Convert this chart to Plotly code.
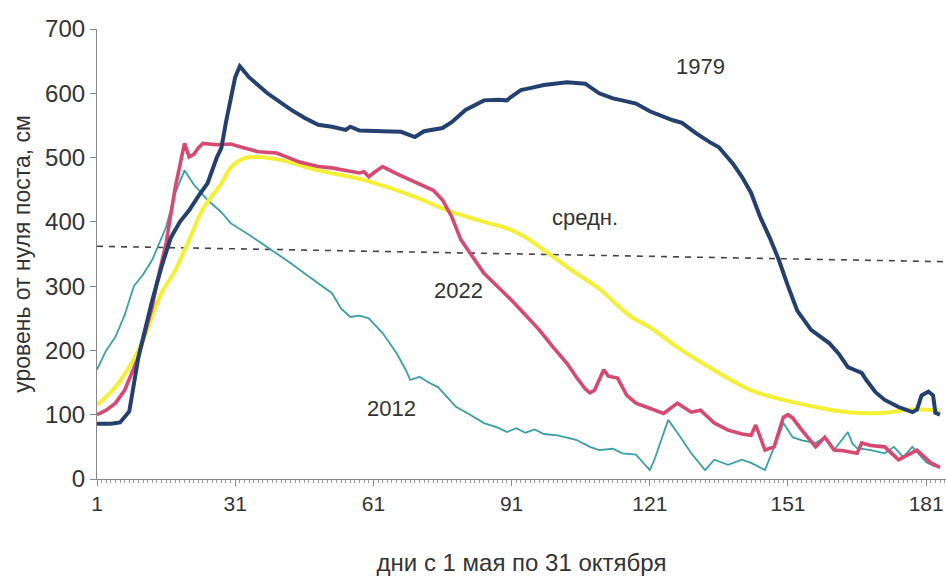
import plotly.graph_objects as go

# ---- data ----
days_1979 = [1, 4, 6, 8, 10, 12, 13, 15, 17, 19, 21, 23, 25, 27, 28, 29, 30, 31, 32, 34, 38, 43, 46, 49,
             52, 55, 56, 58, 63, 67, 70, 72, 76, 78, 81, 85, 88, 90, 91, 93, 95, 98, 103, 107, 110,
             113, 115, 118, 121, 123, 126, 128, 131, 134, 136, 139, 141, 143, 145, 147, 149, 151,
             153, 156, 158, 160, 162, 164, 166, 167, 168, 170, 172, 175, 178, 179, 180, 181.5, 182.5, 183, 184]
vals_1979 = [86, 86, 88, 105, 190, 250, 278, 330, 375, 400, 418, 440, 460, 500, 515, 555, 590, 625, 642, 625,
             600, 575, 562, 551, 548, 543, 548, 542, 541, 540, 532, 541, 546, 555, 574, 589, 590, 589,
             595, 605, 608, 613, 617, 615, 600, 592, 589, 584, 572, 566, 558, 554, 538, 524, 516, 491,
             470, 445, 407, 376, 341, 300, 262, 232, 222, 211, 195, 174, 168, 165, 154, 135, 123, 112,
             104, 108, 130, 136, 130, 103, 100]

days_2022 = [1, 3, 5, 7, 10, 13, 14, 16, 18, 19, 20, 21, 22, 23, 24, 27, 30, 33, 36, 40, 45, 49, 52, 55, 58,
             59, 60, 61, 63, 66, 69, 72, 74, 76, 78, 80, 82, 85, 88, 91, 94, 97, 100, 103, 105, 107, 108,
             109, 111, 112, 114, 116, 118, 121, 124, 127, 130, 132, 135, 138, 141, 143, 144, 146, 148,
             150, 151, 152, 154, 157, 159, 161, 163, 166, 167, 169, 172, 175, 179, 182, 184]
vals_2022 = [100, 107, 118, 138, 190, 268, 305, 367, 454, 490, 522, 501, 505, 515, 522, 520, 521, 515, 509,
             507, 493, 486, 484, 480, 476, 478, 470, 476, 486, 475, 465, 455, 449, 434, 408, 372, 351, 320,
             299, 278, 255, 232, 205, 180, 159, 140, 134, 138, 170, 160, 157, 130, 118, 110, 102, 118, 104,
             107, 87, 76, 70, 68, 84, 45, 50, 96, 100, 95, 76, 50, 65, 45, 44, 40, 56, 52, 50, 30, 45, 25, 18]

days_2012 = [1, 3, 5, 7, 9, 11, 13, 16, 18, 20, 22, 25, 28, 30, 34, 38, 43, 46, 49, 52, 54, 56, 58, 60, 63,
             66, 68, 69, 71, 73, 75, 77, 79, 82, 85, 88, 90, 92, 94, 96, 98, 101, 103, 105, 108, 110, 113,
             115, 118, 121, 122, 125, 127, 130, 133, 135, 138, 141, 143, 146, 148, 150, 152, 154, 157, 159,
             161, 164, 165, 166, 169, 172, 174, 176, 178, 181, 183]
vals_2012 = [170, 200, 221, 255, 300, 318, 341, 392, 445, 480, 458, 434, 415, 398, 380, 361, 336, 320, 305,
             289, 265, 252, 254, 250, 227, 196, 170, 154, 159, 150, 143, 128, 112, 100, 87, 80, 73, 79, 72,
             77, 70, 68, 65, 61, 50, 45, 47, 40, 38, 14, 30, 92, 72, 40, 14, 30, 22, 30, 25, 14, 50, 87, 65,
             60, 56, 65, 45, 73, 55, 48, 45, 40, 50, 34, 50, 26, 19]

days_avg = [1, 5, 10, 15, 18, 21, 24, 28, 30, 33, 36, 41, 49, 59, 70, 77, 86, 90, 94, 99, 104, 110, 114,
            117, 121, 128, 136, 143, 150, 157, 164, 172, 177, 184]
vals_avg = [115, 143, 200, 289, 325, 372, 420, 460, 484, 499, 501, 496, 480, 465, 439, 418, 398, 390, 376,
            351, 325, 296, 270, 252, 236, 200, 165, 138, 123, 112, 104, 103, 108, 107]

days_dash = [1, 185.3]
vals_dash = [362, 338]

x_ticks = [1, 31, 61, 91, 121, 151, 181]
y_ticks = [0, 100, 200, 300, 400, 500, 600, 700]

labels = ["1979", "2022", "2012", "средн."]
label_days = [132, 79.5, 65, 107]
label_vals = [641, 294, 110, 407]

FONT = "Liberation Sans, Arial, sans-serif"

fig = go.Figure()
fig.add_trace(go.Scatter(x=days_dash, y=vals_dash, mode="lines",
                         line=dict(color="#444444", width=1.6, dash="6px,6px"), hoverinfo="skip"))
fig.add_trace(go.Scatter(x=days_2012, y=vals_2012, mode="lines",
                         line=dict(color="#3a9fa7", width=1.8), name="2012"))
fig.add_trace(go.Scatter(x=days_avg, y=vals_avg, mode="lines", line_shape="spline",
                         line=dict(color="#f3f036", width=4), name="средн."))
fig.add_trace(go.Scatter(x=days_2022, y=vals_2022, mode="lines",
                         line=dict(color="#d64a72", width=3.6), name="2022"))
fig.add_trace(go.Scatter(x=days_1979, y=vals_1979, mode="lines",
                         line=dict(color="#24406e", width=4), name="1979"))

for t, dx, vy in zip(labels, label_days, label_vals):
    fig.add_annotation(x=dx, y=vy, text=t, showarrow=False,
                       font=dict(family=FONT, size=22, color="#333333"))

fig.update_layout(
    width=946, height=578,
    margin=dict(l=97, r=0, t=29, b=99),
    paper_bgcolor="white", plot_bgcolor="white",
    showlegend=False,
    font=dict(family=FONT, color="#333333"),
)
fig.update_xaxes(
    range=[1, 185.3], tickvals=x_ticks, ticktext=[str(v) for v in x_ticks],
    automargin=False, ticklabeloverflow="allow",
    showline=True, linecolor="#888888", linewidth=1.2,
    ticks="outside", ticklen=6, tickcolor="#888888",
    minor=dict(dtick=1, tick0=1, ticks="outside", ticklen=3, tickcolor="#999999"),
    showgrid=False, zeroline=False,
    tickfont=dict(size=21, color="#333333"),
    title=dict(text="дни с 1 мая по 31 октября", font=dict(size=24, color="#333333"), standoff=39),
)
fig.update_yaxes(
    range=[0, 700], tickvals=y_ticks,
    automargin=False,
    showline=True, linecolor="#888888", linewidth=1.2,
    ticks="outside", ticklen=6, tickcolor="#888888",
    showgrid=False, zeroline=False,
    tickfont=dict(size=24, color="#333333"),
    title=dict(text="уровень от нуля поста, см", font=dict(size=23, color="#333333"), standoff=8),
)

fig.write_html("out.html", config={"displayModeBar": False},
               post_script="document.body.style.margin='0';")
